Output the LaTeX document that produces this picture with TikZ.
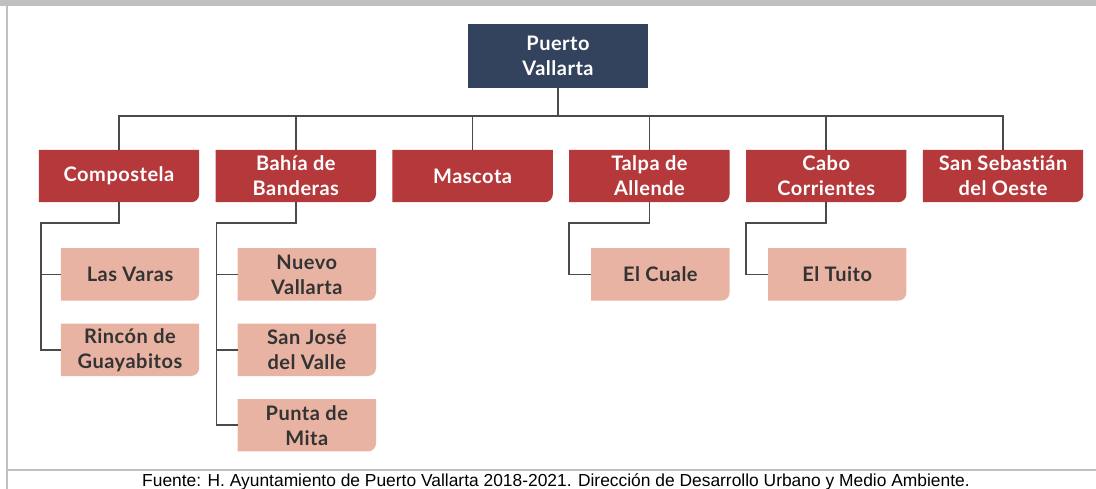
\documentclass[tikz,border=0pt]{standalone}
\usepackage{fontspec}
\setmainfont{Lato}[LetterSpace=2.5,Ligatures=NoCommon]
\newfontfamily\notafont{Liberation Sans}
\usetikzlibrary{positioning}
\definecolor{marino}{HTML}{34435D}
\definecolor{ladrillo}{HTML}{B5393B}
\definecolor{salmon}{HTML}{E8B3A3}
\definecolor{marco}{HTML}{C0C0C0}
\definecolor{linea}{HTML}{4A4A4A}
\pgfdeclarelayer{fondo}
\pgfsetlayers{fondo,main}

\begin{document}
\begin{tikzpicture}[x=1pt,y=1pt,
    caja/.style={minimum width=160pt,minimum height=52pt,align=center,
      text=white,font=\fontsize{20}{25}\selectfont\bfseries,inner sep=0pt},
    subcaja/.style={caja,minimum width=138pt,text=black!80},
    rama/.style={draw=linea,line width=1.6pt}]
\useasboundingbox (0,0) rectangle (1096,-489);
  % marco
  \fill[marco] (0,0) rectangle (1096,-6);
  \fill[marco] (6,-6) rectangle (8,-489);
  \fill[marco] (6,-469) rectangle (1096,-471);

  \node[caja,minimum width=180pt,minimum height=64pt] (pv) at (558,-56) {Puerto\\Vallarta};

  \node[caja] (compostela) at (119,-176) {Compostela};
  \node[caja] (bahia) [right=16.4pt of compostela] {Bahía de\\Banderas};
  \node[caja] (mascota) [right=16.4pt of bahia] {Mascota};
  \node[caja] (talpa) [right=16.4pt of mascota] {Talpa de\\Allende};
  \node[caja] (cabo) [right=16.4pt of talpa] {Cabo\\Corrientes};
  \node[caja] (sanseb) [right=16.4pt of cabo] {San Sebastián\\del Oeste};

  \node[subcaja,anchor=north east] (varas) at ([yshift=-46pt]compostela.south east) {Las Varas};
  \node[subcaja] (rincon) [below=23pt of varas] {Rincón de\\Guayabitos};
  \node[subcaja,anchor=north east] (nuevo) at ([yshift=-46pt]bahia.south east) {Nuevo\\Vallarta};
  \node[subcaja] (sanjose) [below=23pt of nuevo] {San José\\del Valle};
  \node[subcaja] (punta) [below=23pt of sanjose] {Punta de\\Mita};
  \node[subcaja,anchor=north east] (cuale) at ([yshift=-46pt]talpa.south east) {El Cuale};
  \node[subcaja,anchor=north east] (tuito) at ([yshift=-46pt]cabo.south east) {El Tuito};

  \node[font=\notafont\fontsize{17.4}{20}\selectfont,anchor=base] (fuente) at (556,-486)
    {Fuente: H. Ayuntamiento de Puerto Vallarta 2018-2021. Dirección de Desarrollo Urbano y Medio Ambiente.};

  % fondos con la esquina inferior derecha redondeada
  \begin{pgfonlayer}{fondo}
    \fill[marino] (pv.north west) rectangle (pv.south east);
    \foreach \n in {compostela,bahia,mascota,talpa,cabo,sanseb}
      \fill[ladrillo] (\n.north west) -- (\n.north east) -- ([yshift=8pt]\n.south east)
        arc[start angle=0,end angle=-90,radius=8pt] -- (\n.south west) -- cycle;
    \foreach \n in {varas,rincon,nuevo,sanjose,punta,cuale,tuito}
      \fill[salmon] (\n.north west) -- (\n.north east) -- ([yshift=8pt]\n.south east)
        arc[start angle=0,end angle=-90,radius=8pt] -- (\n.south west) -- cycle;
  \end{pgfonlayer}

  % ramas
  \foreach \n in {compostela,bahia,mascota,talpa,cabo,sanseb}
    \draw[rama] (pv.south) -- ++(0,-28) -| (\n.north);

  \coordinate (ccomp) at ([xshift=2pt,yshift=-21pt]compostela.south west);
  \coordinate (cbahia) at ([xshift=1pt,yshift=-21pt]bahia.south west);
  \coordinate (ctalpa) at ([yshift=-21pt]talpa.south west);
  \coordinate (ccabo) at ([yshift=-21pt]cabo.south west);
  \draw[rama] (compostela.south) |- (ccomp) |- (varas.west);
  \draw[rama] (ccomp) |- (rincon.west);
  \draw[rama] (bahia.south) |- (cbahia) |- (nuevo.west);
  \draw[rama] (cbahia) |- (sanjose.west);
  \draw[rama] (cbahia) |- (punta.west);
  \draw[rama] (talpa.south) |- (ctalpa) |- (cuale.west);
  \draw[rama] (cabo.south) |- (ccabo) |- (tuito.west);

\end{tikzpicture}
\end{document}
